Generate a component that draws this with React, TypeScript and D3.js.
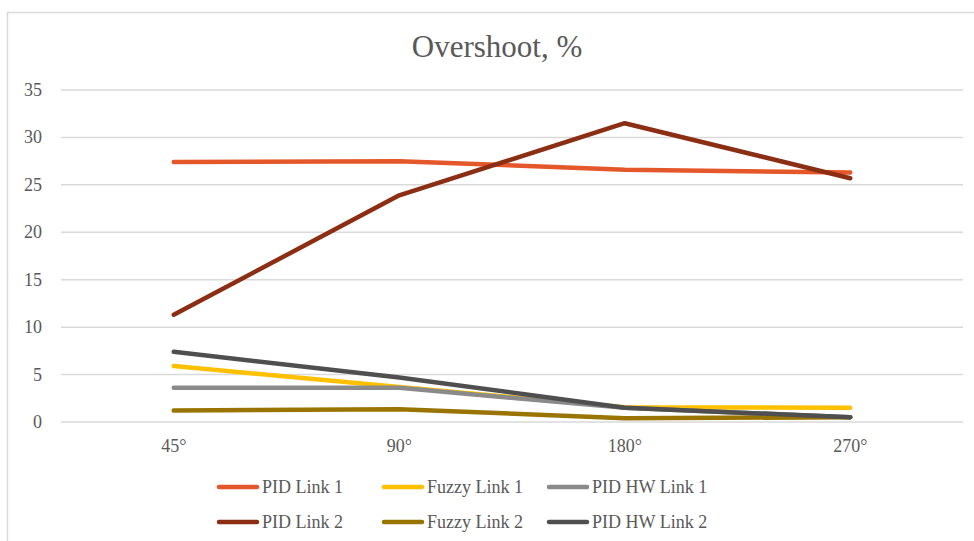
import React, { useEffect, useRef } from 'react';
import * as d3 from 'd3';

// categories (rotation angle) and overshoot values
const categories = ['45°', '90°', '180°', '270°'];
const yTicks = [0, 5, 10, 15, 20, 25, 30, 35];

const pidLink1 = [27.4, 27.5, 26.6, 26.3];
const fuzzyLink1 = [5.9, 3.7, 1.55, 1.5];
const pidHwLink1 = [3.6, 3.6, 1.5, 0.5];
const pidLink2 = [11.3, 23.9, 31.5, 25.7];
const fuzzyLink2 = [1.2, 1.35, 0.4, 0.5];
const pidHwLink2 = [7.4, 4.7, 1.5, 0.5];

const seriesNames = ['PID Link 1', 'Fuzzy Link 1', 'PID HW Link 1', 'PID Link 2', 'Fuzzy Link 2', 'PID HW Link 2'];
const seriesValues = [pidLink1, fuzzyLink1, pidHwLink1, pidLink2, fuzzyLink2, pidHwLink2];
const seriesColors = ['#E4572B', '#FFC000', '#8A8A8A', '#8B2E13', '#9A7400', '#4F4F4F'];

const W = 974;
const H = 541;
const FONT = '"Liberation Serif", "Times New Roman", serif';

const App = () => {
  const ref = useRef<SVGSVGElement>(null);

  useEffect(() => {
    const svg = d3.select(ref.current);
    svg.selectAll('*').remove();

    const margin = { top: 90, right: 11, bottom: 119, left: 61 };
    const width = W - margin.left - margin.right;
    const height = H - margin.top - margin.bottom;

    // outer chart border (bottom/right go past the frame)
    svg.append('rect')
      .attr('x', 7.5).attr('y', 12.5)
      .attr('width', W).attr('height', H)
      .attr('fill', 'white')
      .attr('stroke', '#d9d9d9')
      .attr('stroke-width', 1.5);

    svg.append('text')
      .attr('x', 497).attr('y', 57)
      .attr('text-anchor', 'middle')
      .attr('font-family', FONT)
      .attr('font-size', 31)
      .attr('fill', '#595959')
      .text('Overshoot, %');

    const g = svg.append('g').attr('transform', `translate(${margin.left},${margin.top})`);

    const x = d3.scaleBand().domain(categories).range([0, width]);
    const y = d3.scaleLinear().domain([0, 35]).range([height, 0]);

    // gridlines
    g.append('g')
      .selectAll('line')
      .data(yTicks)
      .enter().append('line')
      .attr('x1', 0).attr('x2', width)
      .attr('y1', d => y(d)).attr('y2', d => y(d))
      .attr('stroke', '#d9d9d9')
      .attr('stroke-width', 1.5);

    // y tick labels
    g.append('g')
      .selectAll('text')
      .data(yTicks)
      .enter().append('text')
      .attr('x', -19)
      .attr('y', d => y(d) + 6)
      .attr('text-anchor', 'end')
      .attr('font-family', FONT)
      .attr('font-size', 18)
      .attr('fill', '#595959')
      .text(d => d);

    // x tick labels
    g.append('g')
      .selectAll('text')
      .data(categories)
      .enter().append('text')
      .attr('x', d => x(d)! + x.bandwidth() / 2)
      .attr('y', height + 30)
      .attr('text-anchor', 'middle')
      .attr('font-family', FONT)
      .attr('font-size', 18)
      .attr('fill', '#595959')
      .text(d => d);

    const line = d3.line<number>()
      .x((d, i) => x(categories[i])! + x.bandwidth() / 2)
      .y(d => y(d));

    g.append('g')
      .selectAll('path')
      .data(seriesValues)
      .enter().append('path')
      .attr('d', d => line(d))
      .attr('fill', 'none')
      .attr('stroke', (d, i) => seriesColors[i])
      .attr('stroke-width', 4.5)
      .attr('stroke-linecap', 'round')
      .attr('stroke-linejoin', 'round');

    // legend, 3 columns x 2 rows
    const legend = svg.append('g');
    const colX = [217, 382, 547];
    const rowY = [487, 522];
    const item = legend.selectAll('g')
      .data(seriesNames)
      .enter().append('g')
      .attr('transform', (d, i) => `translate(${colX[i % 3]},${rowY[Math.floor(i / 3)]})`);

    item.append('line')
      .attr('x1', 2).attr('x2', 40)
      .attr('y1', 0).attr('y2', 0)
      .attr('stroke', (d, i) => seriesColors[i])
      .attr('stroke-width', 4.5)
      .attr('stroke-linecap', 'round');

    item.append('text')
      .attr('x', 45)
      .attr('y', 6)
      .attr('font-family', FONT)
      .attr('font-size', 18)
      .attr('fill', '#595959')
      .text(d => d);
  }, []);

  return (
    <div>
      <style>{'body { margin: 0; }'}</style>
      <svg ref={ref} width={W} height={H} style={{ display: 'block' }} />
    </div>
  );
};

export default App;
